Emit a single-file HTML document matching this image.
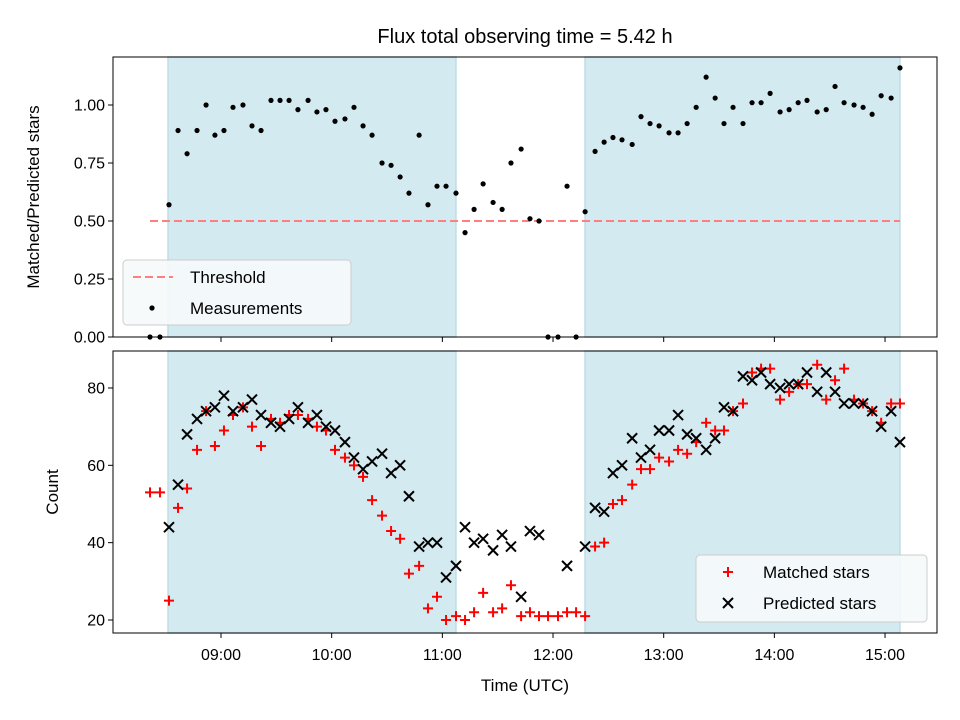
<!DOCTYPE html>
<html><head><meta charset="utf-8"><style>
body{margin:0;background:#fff;}
svg{display:block;font-family:"Liberation Sans","DejaVu Sans",sans-serif;}
</style></head><body>
<svg id="chart" width="960" height="720" viewBox="0 0 960 720" xmlns="http://www.w3.org/2000/svg">
<rect width="960" height="720" fill="#fff"/>
<text x="525" y="43" font-size="20" text-anchor="middle">Flux total observing time = 5.42 h</text>
<g id="gtop"></g><g id="gbot"></g>
</svg>
<script>
const timesMin=[501.5,506.9,511.8,516.7,521.6,527.0,531.9,536.7,541.6,546.5,
551.9,556.8,561.7,567.1,572.0,576.9,581.7,587.2,592.0,596.9,
601.8,607.2,612.1,617.0,621.9,627.3,632.2,637.1,641.9,647.4,
652.2,657.1,662.0,667.4,672.3,677.2,682.1,687.5,692.4,697.2,
702.7,707.5,712.4,717.3,722.7,727.6,732.5,737.4,742.8,747.7,
752.5,757.4,762.9,767.7,772.6,777.5,782.9,787.8,792.7,797.6,
803.0,807.9,812.7,817.6,823.0,827.9,832.8,837.7,843.1,848.0,
852.9,857.7,863.2,868.1,872.9,877.8,883.2,888.1,893.0,897.9,
903.3,908.1];
const ratio=[0,0,0.57,0.89,0.79,0.89,1.00,0.87,0.89,0.99,
1.00,0.91,0.89,1.02,1.02,1.02,0.98,1.02,0.97,0.98,
0.93,0.94,0.99,0.91,0.87,0.75,0.74,0.69,0.62,0.87,
0.57,0.65,0.65,0.62,0.45,0.55,0.66,0.58,0.55,0.75,
0.81,0.51,0.50,0,0,0.65,0,0.54,0.80,0.84,
0.86,0.85,0.83,0.95,0.92,0.91,0.88,0.88,0.92,0.99,
1.12,1.03,0.92,0.99,0.92,1.01,1.01,1.05,0.97,0.98,
1.01,1.02,0.97,0.98,1.08,1.01,1.00,0.99,0.96,1.04,
1.03,1.16];
const matched=[53,53,25,49,54,64,74,65,69,73,
75,70,65,72,71,73,73,72,70,69,
64,62,60,57,51,47,43,41,32,34,
23,26,20,21,20,22,27,22,23,29,
21,22,21,21,21,22,22,21,39,40,
50,51,55,59,59,62,61,64,63,66,
71,69,69,74,76,84,85,85,77,79,
81,81,86,77,82,85,77,76,74,71,
76,76];
const predicted=[null,null,44,55,68,72,74,75,78,74,
75,77,73,71,70,72,75,71,73,70,
69,66,62,59,61,63,58,60,52,39,
40,40,31,34,44,40,41,38,42,39,
26,43,42,null,null,34,null,39,49,48,
58,60,67,62,64,69,69,73,68,67,
64,67,75,74,83,82,84,81,80,81,
81,84,79,84,79,76,76,76,74,70,
74,66];
const threshold=0.5;
const spans=[[8.521,11.123],[12.289,15.135]];
const xTickHours=[9,10,11,12,13,14,15];
const xTickLabels=["09:00","10:00","11:00","12:00","13:00","14:00","15:00"];
const topTicks=[0,0.25,0.5,0.75,1.0];
const topTickLabels=["0.00","0.25","0.50","0.75","1.00"];
const botTicks=[20,40,60,80];
const botTickLabels=["20","40","60","80"];

const NS="http://www.w3.org/2000/svg";
const L=113,R=937;
const xH=h=>L+(h-8.024)*110.67;
const xM=m=>xH(m/60);
const yT=v=>337-v*232;
const yB=v=>620-(v-20)*3.867;
function mk(p,tag,at,txt){const e=document.createElementNS(NS,tag);for(const k in at)e.setAttribute(k,at[k]);if(txt!=null)e.textContent=txt;p.appendChild(e);return e;}
const gTop=document.getElementById('gtop'),gBot=document.getElementById('gbot');

function panel(g,y0,y1,name){
  spans.forEach((s,i)=>{
    const r=mk(g,'rect',{x:xH(s[0]),y:y0,width:xH(s[1])-xH(s[0]),height:y1-y0,fill:'#d4eaf1',stroke:'#bfdde6','stroke-width':1.5});
    
    
  });
  xTickHours.forEach((h,i)=>{
    const t=mk(g,'line',{x1:xH(h),x2:xH(h),y1:y1,y2:y1+5,stroke:'#000','stroke-width':1});
    
    
  });
}
panel(gTop,57,337,'top');
panel(gBot,351,633,'bottom');

const th=mk(gTop,'line',{x1:xM(timesMin[0]),x2:xM(timesMin[timesMin.length-1]),y1:yT(threshold),y2:yT(threshold),stroke:'#ff7f7f','stroke-width':2,'stroke-dasharray':'8,4'});



ratio.forEach((v,i)=>{
  const c=mk(gTop,'circle',{cx:xM(timesMin[i]),cy:yT(v),r:2.6,fill:'#000'});
  
  
});
matched.forEach((v,i)=>{
  if(v==null)return;const x=xM(timesMin[i]),y=yB(v);
  const p=mk(gBot,'path',{d:`M${x-5},${y}H${x+5}M${x},${y-5}V${y+5}`,stroke:'#ff0000','stroke-width':2});
  
  
});
predicted.forEach((v,i)=>{
  if(v==null)return;const x=xM(timesMin[i]),y=yB(v);
  const p=mk(gBot,'path',{d:`M${x-5},${y-5}L${x+5},${y+5}M${x-5},${y+5}L${x+5},${y-5}`,stroke:'#000','stroke-width':2});
  
  
});

[[gTop,57,337],[gBot,351,633]].forEach(([g,a,b])=>{
  const f=mk(g,'rect',{x:L,y:a,width:R-L,height:b-a,fill:'none',stroke:'#000','stroke-width':1});
  
  
});
topTicks.forEach((v,i)=>{
  mk(gTop,'line',{x1:L-5,x2:L,y1:yT(v),y2:yT(v),stroke:'#000'});
  const t=mk(gTop,'text',{x:L-8,y:yT(v)+5.5,'font-size':16,'text-anchor':'end'},topTickLabels[i]);
  
  
});
botTicks.forEach((v,i)=>{
  mk(gBot,'line',{x1:L-5,x2:L,y1:yB(v),y2:yB(v),stroke:'#000'});
  const t=mk(gBot,'text',{x:L-8,y:yB(v)+5.5,'font-size':16,'text-anchor':'end'},botTickLabels[i]);
  
  
});
xTickHours.forEach((h,i)=>{
  const t=mk(gBot,'text',{x:xH(h),y:660,'font-size':16,'text-anchor':'middle'},xTickLabels[i]);
  
  
});
</script>
<svg style="position:absolute;left:0;top:0" width="960" height="720">
<text x="0" y="0" font-size="17" text-anchor="middle" transform="translate(39,197) rotate(-90)">Matched/Predicted stars</text>
<text x="0" y="0" font-size="17" text-anchor="middle" transform="translate(58,492) rotate(-90)">Count</text>
<text x="525" y="691" font-size="17" text-anchor="middle">Time (UTC)</text>
<g>
<rect x="123" y="260" width="228" height="65" rx="4" fill="#f6f9fb" fill-opacity="0.9" stroke="#ccc"/>
<line x1="133" x2="173" y1="277" y2="277" stroke="#ff7f7f" stroke-width="2" stroke-dasharray="8,4"/>
<text x="190" y="283" font-size="17">Threshold</text>
<circle cx="152" cy="308" r="2.6" fill="#000"/>
<text x="190" y="314" font-size="17">Measurements</text>
</g>
<g>
<rect x="696" y="555" width="231" height="67" rx="4" fill="#f6f9fb" fill-opacity="0.9" stroke="#ccc"/>
<path d="M723,572H733M728,567V577" stroke="#f00" stroke-width="2"/>
<text x="763" y="578" font-size="17">Matched stars</text>
<path d="M723,598L733,608M723,608L733,598" stroke="#000" stroke-width="2"/>
<text x="763" y="609" font-size="17">Predicted stars</text>
</g>
</svg>
</body></html>
